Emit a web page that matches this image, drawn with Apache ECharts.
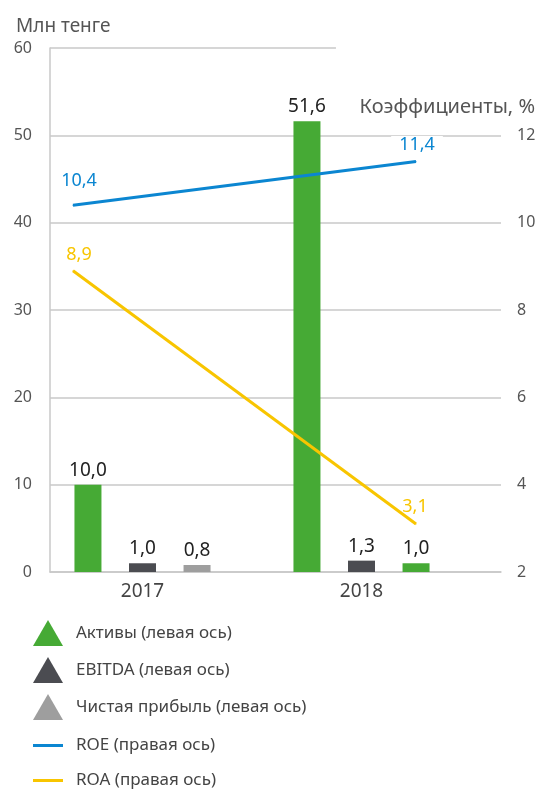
<!DOCTYPE html>
<html>
<head>
<meta charset="utf-8">
<script src="https://cdn.jsdelivr.net/npm/echarts@6/dist/echarts.min.js"></script>
<style>
  html, body { margin: 0; padding: 0; background: #fff; }
  #chart { width: 542px; height: 790px; }
</style>
</head>
<body>
<div id="chart"></div>
<script>
  const years = ['2017', '2018']
  const assets = [10.0, 51.6]
  const ebitda = [1.0, 1.3]
  const netProfit = [0.8, 1.0]
  const roe = [10.4, 11.4]
  const roa = [8.9, 3.1]
  const barNames = ['Активы (левая ось)', 'EBITDA (левая ось)', 'Чистая прибыль (левая ось)']
  const lineNames = ['ROE (правая ось)', 'ROA (правая ось)']

  const green = '#46aa35'
  const dark = '#4b4c51'
  const grey = '#9e9e9e'
  const blue = '#0b86d1'
  const yellow = '#f8c500'
  const gridColor = '#c8c8c8'

  const fmt = v => Number(v).toFixed(1).replace('.', ',')

  const chart = echarts.init(document.getElementById('chart'))

  const barLabel = {
    show: true,
    position: 'top',
    distance: 5,
    fontSize: 19,
    color: '#222',
    formatter: p => fmt(p.value)
  }

  // one vertical legend per line series, so they never wrap into columns
  const lineLegend = (name, top) => ({
    data: [name],
    orient: 'vertical',
    left: 33,
    top: top,
    padding: 0,
    icon: 'rect',
    itemWidth: 30,
    itemHeight: 3,
    textStyle: { fontSize: 17, color: '#444', padding: [0, 0, 0, 8] }
  })

  chart.setOption({
    animation: false,
    textStyle: { fontFamily: 'Noto Sans' },
    title: [
      { text: 'Млн тенге', left: 11, top: 12, textStyle: { fontSize: 19, fontWeight: 'normal', color: '#555' } },
      { text: 'Коэффициенты, %', right: 2, top: 92, textStyle: { fontSize: 20, fontWeight: 'normal', color: '#555' } }
    ],
    legend: [
      {
        data: barNames,
        orient: 'vertical',
        left: 33,
        top: 620,
        padding: 0,
        icon: 'triangle',
        itemWidth: 30,
        itemHeight: 26,
        itemGap: 11,
        textStyle: { fontSize: 17, color: '#444', padding: [0, 0, 0, 8] }
      },
      lineLegend(lineNames[0], 737),
      lineLegend(lineNames[1], 772)
    ],
    grid: [
      { left: 50, right: 41, top: 48, bottom: 218 },
      { left: 33, right: 71, top: 48, bottom: 218 },
      { left: 73, right: 126, top: 48, bottom: 218 }
    ],
    xAxis: [
      {
        gridIndex: 0, type: 'value', min: 0, max: 1,
        axisLine: { show: true, onZero: false, lineStyle: { color: gridColor, width: 1.5 } },
        axisTick: { show: false }, axisLabel: { show: false }, splitLine: { show: false }
      },
      {
        gridIndex: 1, type: 'category', data: years,
        axisLine: { show: false }, axisTick: { show: false },
        axisLabel: { fontSize: 19, color: '#444', margin: 10 }
      },
      { gridIndex: 2, type: 'category', data: years, boundaryGap: false, show: false }
    ],
    yAxis: [
      {
        gridIndex: 0, type: 'value', min: 0, max: 60, interval: 10, position: 'left',
        axisLine: { show: true, lineStyle: { color: gridColor, width: 1.5 } },
        axisTick: { show: false },
        axisLabel: { fontSize: 16, color: '#555', margin: 18 },
        splitLine: { show: false }
      },
      {
        gridIndex: 0, type: 'value', min: 2, max: 14, interval: 2, position: 'right',
        axisLine: { show: false }, axisTick: { show: false },
        axisLabel: { fontSize: 16, color: '#555', margin: 16, formatter: v => (v > 12 ? '' : String(v)) },
        splitLine: {
          show: true,
          lineStyle: { width: 1.5, color: [gridColor, gridColor, gridColor, gridColor, gridColor, gridColor, 'rgba(0,0,0,0)'] }
        }
      },
      { gridIndex: 1, type: 'value', min: 0, max: 60, show: false },
      { gridIndex: 2, type: 'value', min: 2, max: 14, show: false }
    ],
    series: [
      {
        // top gridline (60) stops short of the right-hand axis title
        type: 'line', xAxisIndex: 0, yAxisIndex: 0, data: [], silent: true,
        markLine: {
          silent: true, symbol: 'none', label: { show: false },
          lineStyle: { color: gridColor, width: 1.5, type: 'solid' },
          data: [[{ coord: [0, 60] }, { coord: [0.634, 60] }]]
        }
      },
      {
        name: barNames[0], type: 'bar', xAxisIndex: 1, yAxisIndex: 2,
        data: assets, barWidth: 27, barGap: '102%',
        itemStyle: { color: green }, label: barLabel
      },
      {
        name: barNames[1], type: 'bar', xAxisIndex: 1, yAxisIndex: 2,
        data: ebitda, barWidth: 27, barGap: '102%',
        itemStyle: { color: dark }, label: barLabel
      },
      {
        name: barNames[2], type: 'bar', xAxisIndex: 1, yAxisIndex: 2,
        // 2018 bar is drawn green in the original
        data: netProfit.map((v, i) => (i === 1 ? { value: v, itemStyle: { color: green } } : v)),
        barWidth: 27, barGap: '102%',
        itemStyle: { color: grey }, label: barLabel
      },
      {
        name: lineNames[0], type: 'line', xAxisIndex: 2, yAxisIndex: 3,
        data: roe.map((v, i) => ({
          value: v,
          label: i === 0 ? { offset: [6, -10] } : { offset: [1, -2], backgroundColor: '#fff', padding: [0, 8] }
        })),
        symbol: 'circle', symbolSize: 1, showSymbol: true,
        lineStyle: { color: blue, width: 3 }, itemStyle: { color: blue },
        label: { show: true, position: 'top', distance: 5, fontSize: 18, color: blue, formatter: p => fmt(p.value) }
      },
      {
        name: lineNames[1], type: 'line', xAxisIndex: 2, yAxisIndex: 3,
        data: roa.map((v, i) => ({
          value: v,
          label: { offset: i === 0 ? [6, -1] : [-1, -3] }
        })),
        symbol: 'circle', symbolSize: 1, showSymbol: true,
        lineStyle: { color: yellow, width: 3 }, itemStyle: { color: yellow },
        label: { show: true, position: 'top', distance: 5, fontSize: 18, color: yellow, formatter: p => fmt(p.value) }
      }
    ]
  })
</script>
</body>
</html>
